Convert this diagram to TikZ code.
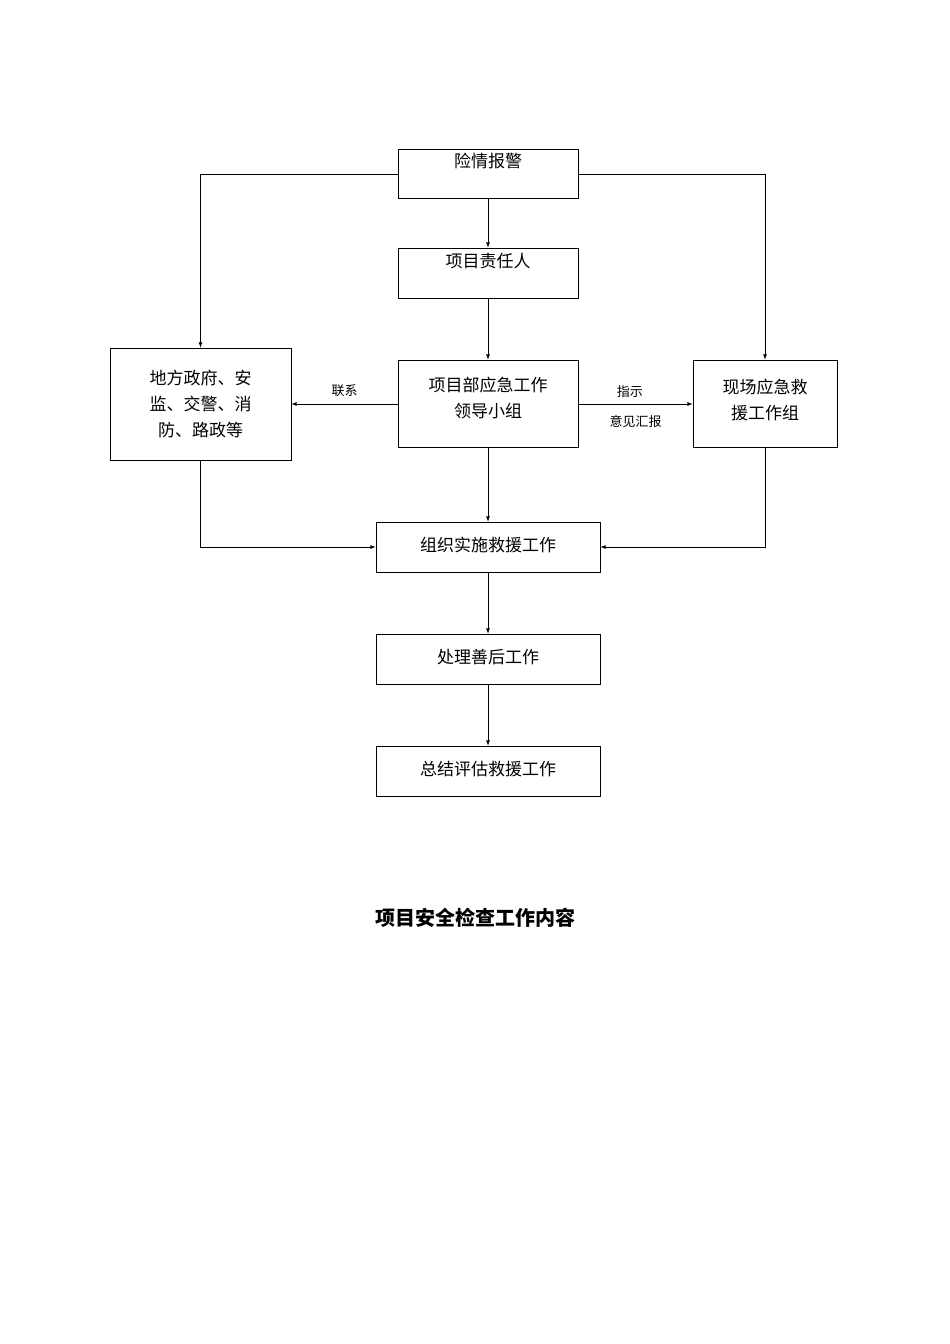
\documentclass[tikz,border=0pt]{standalone}
\usepackage{fontspec}
\setmainfont{Noto Sans CJK SC}
\begin{document}
\begin{tikzpicture}[x=1pt,y=-1pt,
 bx/.style={draw,line width=0.8pt,inner sep=0pt},
 ar/.style={-latex,line width=0.8pt},
 tx/.style={font=\fontsize{17}{26}\selectfont,align=center},
 sm/.style={font=\fontsize{13}{15}\selectfont}]
\useasboundingbox (0,0) rectangle (950,1344);
\node[bx,minimum width=180,minimum height=49] (a) at (488,173.5) {};
\node[tx] at (488,161) {险情报警};
\node[bx,minimum width=180,minimum height=50] (b) at (488,273) {};
\node[tx] at (488,261) {项目责任人};
\node[bx,minimum width=181,minimum height=112] (c) at (200.5,404) {};
\node[tx] at (200.5,404) {地方政府、安\\监、交警、消\\防、路政等};
\node[bx,minimum width=180,minimum height=87] (d) at (488,403.5) {};
\node[tx] at (488,398) {项目部应急工作\\领导小组};
\node[bx,minimum width=144,minimum height=87] (e) at (765,403.5) {};
\node[tx] at (765,400) {现场应急救\\援工作组};
\node[bx,minimum width=224,minimum height=50] (f) at (488,547) {};
\node[tx] at (488,545) {组织实施救援工作};
\node[bx,minimum width=224,minimum height=50] (g) at (488,659) {};
\node[tx] at (488,657) {处理善后工作};
\node[bx,minimum width=224,minimum height=50] (h) at (488,771) {};
\node[tx] at (488,769) {总结评估救援工作};
\node[font=\fontsize{20}{24}\selectfont\bfseries] (t) at (475,918) {项目安全检查工作内容};
\draw[ar] (a.west|-0,174) -| (c.north);
\draw[ar] (a.east|-0,174) -| (e.north);
\draw[ar] (a.south) -- (b.north);
\draw[ar] (b.south) -- (d.north);
\draw[ar] (d.west|-0,404) -- (c.east|-0,404) node[midway,above,sm,yshift=4] {联系};
\draw[ar] (d.east|-0,404) -- (e.west|-0,404) node[pos=0.45,above,sm,yshift=3] {指示} node[pos=0.5,below,sm,yshift=-8] {意见汇报};
\draw[ar] (d.south) -- (f.north);
\draw[ar] (c.south) |- (f.west);
\draw[ar] (e.south) |- (f.east);
\draw[ar] (f.south) -- (g.north);
\draw[ar] (g.south) -- (h.north);
\end{tikzpicture}
\end{document}
